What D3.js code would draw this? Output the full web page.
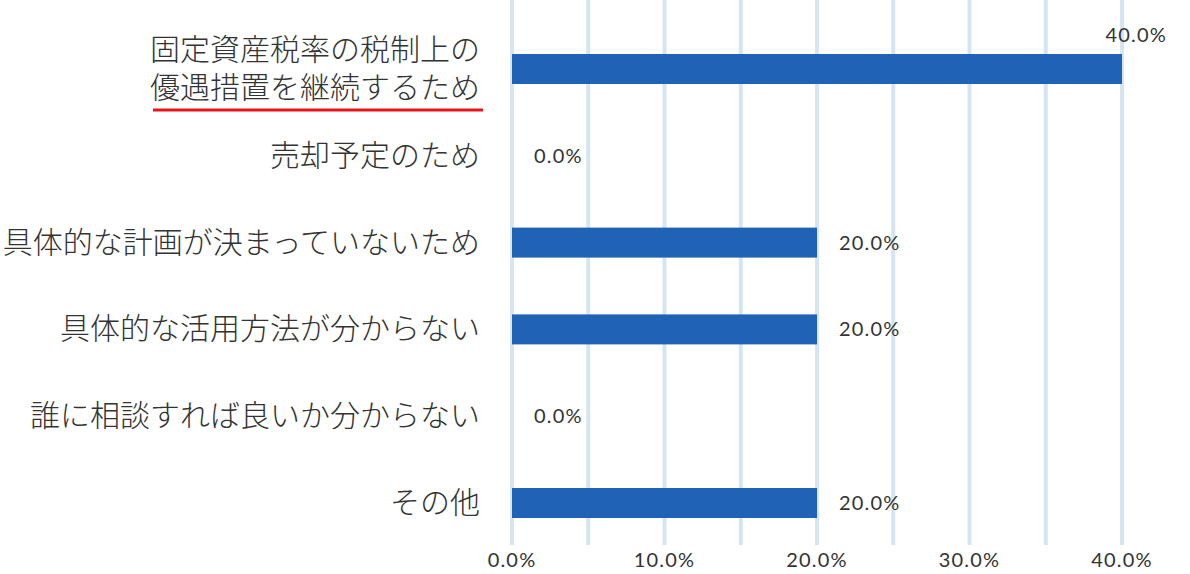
<!DOCTYPE html>
<html><head><meta charset="utf-8">
<script src="https://cdn.jsdelivr.net/npm/d3@7"></script>
<style>body{margin:0;background:#fff}svg{display:block}</style>
</head><body><div id="plot"></div>
<script>
var categories = [
  ['固定資産税率の税制上の','優遇措置を継続するため'],
  ['売却予定のため'],
  ['具体的な計画が決まっていないため'],
  ['具体的な活用方法が分からない'],
  ['誰に相談すれば良いか分からない'],
  ['その他']
];
var values = [40.0, 0.0, 20.0, 20.0, 0.0, 20.0];
var tickValues = [0, 10, 20, 30, 40];
var gridValues = [0, 5, 10, 15, 20, 25, 30, 35, 40];

var w = 1190, h = 574;
var svg = d3.select('#plot').append('svg').attr('width', w).attr('height', h);
var font = '"Noto Sans CJK JP", "Noto Sans", sans-serif';
var numFont = 'Lato, "Open Sans", sans-serif';

var x = d3.scaleLinear().domain([0, 40]).range([512, 1122]);
var y = d3.scalePoint().domain(d3.range(categories.length)).range([69, 503]);

//grid
svg.selectAll('line.grid').data(gridValues).enter().append('line')
  .attr('x1', d => x(d)).attr('x2', d => x(d))
  .attr('y1', 0).attr('y2', 545)
  .attr('stroke', '#d5e5f1').attr('stroke-width', 4);

//bars
svg.selectAll('rect.bar').data(values).enter().append('rect')
  .attr('x', x(0)).attr('y', (d, i) => y(i) - 15)
  .attr('width', d => x(d) - x(0)).attr('height', 30)
  .attr('fill', '#1f62b6');

//value labels
svg.selectAll('text.val').data(values).enter().append('text')
  .attr('x', (d, i) => d >= 40 ? x(d) + 45 : x(d) + 22)
  .attr('y', (d, i) => d >= 40 ? y(i) - 27 : y(i) + 7)
  .attr('text-anchor', (d) => d >= 40 ? 'end' : 'start')
  .attr('font-family', numFont).attr('font-size', 20).attr('letter-spacing', 1.2).attr('fill', '#333')
  .text(d => d.toFixed(1) + '%');

//category labels
categories.forEach(function(lines, i) {
  var t = svg.append('text').attr('text-anchor', 'end')
    .attr('font-family', font).attr('font-size', 30).attr('font-weight', 300).attr('fill', '#333');
  var n = lines.length;
  lines.forEach(function(s, k) {
    t.append('tspan').attr('x', 480)
      .attr('y', y(i) + 10 + (k - (n - 1) / 2) * 38)
      .text(s);
  });
  if (n > 1) {
    svg.append('line').attr('x1', 153).attr('x2', 483)
      .attr('y1', y(i) + 41).attr('y2', y(i) + 41)
      .attr('stroke', '#e8141c').attr('stroke-width', 3);
  }
});

//x ticks
svg.selectAll('text.tick').data(tickValues).enter().append('text')
  .attr('x', d => x(d)).attr('y', 567)
  .attr('text-anchor', 'middle')
  .attr('font-family', numFont).attr('font-size', 20).attr('letter-spacing', 1.2).attr('fill', '#333')
  .text(d => d.toFixed(1) + '%');
</script></body></html>
